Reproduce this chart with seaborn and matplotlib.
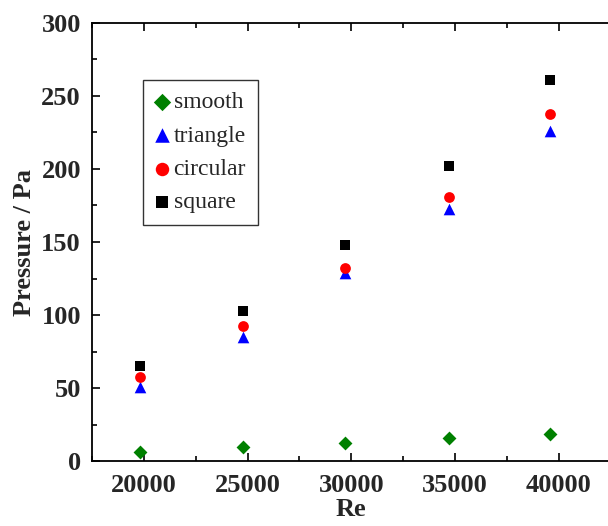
import matplotlib
matplotlib.use("Agg")
import matplotlib.pyplot as plt
import seaborn as sns
import pandas as pd
from matplotlib.ticker import MultipleLocator

re_vals = [19800, 24800, 29700, 34700, 39600]
smooth = [6.4, 9.4, 12.5, 15.5, 18.5]
triangle = [51, 85, 129, 172.5, 226]
circular = [57.5, 92.5, 132, 181, 237.5]
square = [65, 103, 148, 202, 261]

series = ["smooth", "triangle", "circular", "square"]
values = [smooth, triangle, circular, square]

rows = []
for name, vals in zip(series, values):
    for r, v in zip(re_vals, vals):
        rows.append({"Re": r, "Pressure": v, "type": name})
df = pd.DataFrame(rows)

sns.set_style("ticks")
plt.rcParams["font.family"] = ["Liberation Serif", "DejaVu Serif"]

fig = plt.figure(figsize=(6.08, 5.26), dpi=100)
ax = fig.add_axes([92 / 608, 65 / 526, 518.5 / 608, 438 / 526])

palette = {"smooth": "#008000", "triangle": "#0000ff", "circular": "#ff0000", "square": "#000000"}
markers = {"smooth": "D", "triangle": "^", "circular": "o", "square": "s"}
sizes = {"smooth": 50, "triangle": 70, "circular": 60, "square": 45}

for name in series:
    sub = df[df["type"] == name]
    sns.scatterplot(data=sub, x="Re", y="Pressure", ax=ax, color=palette[name],
                    marker=markers[name], s=sizes[name], linewidth=0, label=name)

ax.set_xlim(17500, 42500)
ax.set_ylim(0, 300)
ax.xaxis.set_major_locator(MultipleLocator(5000))
ax.xaxis.set_minor_locator(MultipleLocator(2500))
ax.yaxis.set_major_locator(MultipleLocator(50))
ax.yaxis.set_minor_locator(MultipleLocator(25))
ax.tick_params(which="both", direction="in", top=True, right=False, width=1.2, color="black")
ax.tick_params(which="major", length=6)
ax.tick_params(which="minor", length=3.5)
ax.tick_params(axis="both", labelsize=19)
ax.tick_params(axis="x", pad=9)
ax.tick_params(axis="y", pad=8)
for lab in ax.get_xticklabels() + ax.get_yticklabels():
    lab.set_fontweight("bold")
for sp in ax.spines.values():
    sp.set_linewidth(1.3)
    sp.set_color("black")
ax.spines["right"].set_visible(False)

ax.set_xlabel("Re", fontsize=19, fontweight="bold", labelpad=1)
ax.set_ylabel("Pressure / Pa", fontsize=19, fontweight="bold", labelpad=4)

leg = ax.legend(loc="upper left", bbox_to_anchor=(0.098, 0.870), borderaxespad=0,
                fontsize=17, frameon=True, fancybox=False, edgecolor="black",
                handletextpad=0.2, handlelength=0.6, labelspacing=0.5,
                borderpad=0.5, markerscale=1.25)
leg.get_frame().set_linewidth(1.0)

fig.savefig("out.png", dpi=100)
